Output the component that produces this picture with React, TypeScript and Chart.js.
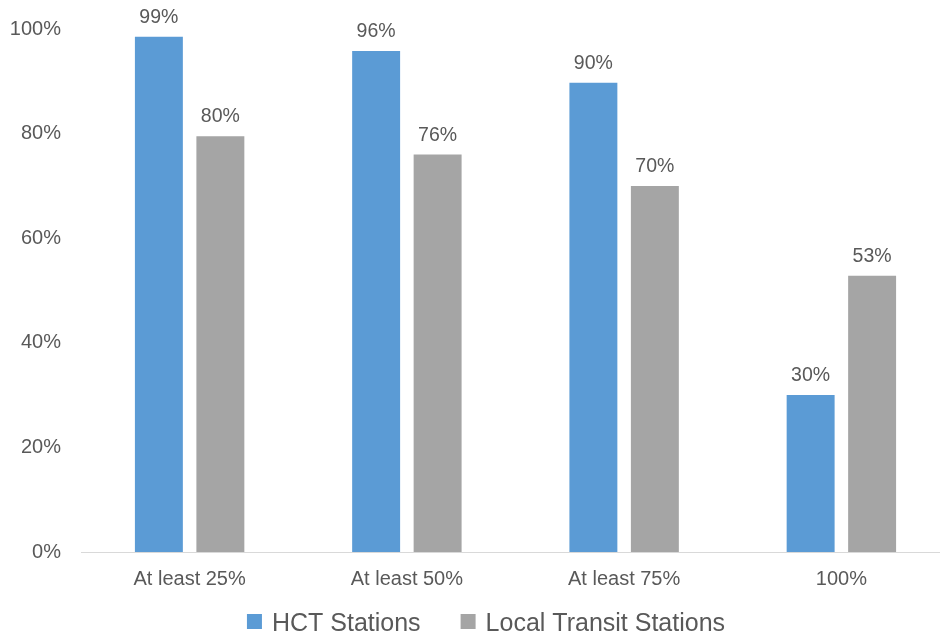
import React, { useEffect, useRef } from 'react';
import { Chart, registerables } from 'chart.js';

Chart.register(...registerables);

const categories = ['At least 25%', 'At least 50%', 'At least 75%', '100%'];
const seriesNames = ['HCT Stations', 'Local Transit Stations'];
const hctStations = [98.5, 95.8, 89.7, 30.0];
const localTransitStations = [79.5, 76.0, 70.0, 52.8];
const yTickMin = 0;
const yTickMax = 100;
const yTickStep = 20;

const BLUE = '#5B9BD5';
const GRAY = '#A5A5A5';
const TEXT = '#595959';
const AXIS = '#D9D9D9';
const FONT = '"Liberation Sans", Arial, Helvetica, sans-serif';

const dataLabelPlugin = {
  id: 'dataLabels',
  afterDatasetsDraw(chart: any) {
    const ctx = chart.ctx;
    ctx.save();
    ctx.font = `19.5px ${FONT}`;
    ctx.fillStyle = TEXT;
    ctx.textAlign = 'center';
    ctx.textBaseline = 'alphabetic';
    chart.data.datasets.forEach((ds: any, di: number) => {
      const meta = chart.getDatasetMeta(di);
      meta.data.forEach((bar: any, i: number) => {
        const v = ds.data[i];
        ctx.fillText(`${Math.round(v)}%`, bar.x, bar.y - 14);
      });
    });
    ctx.restore();
  },
};

const customLegendPlugin = {
  id: 'customLegend',
  afterDraw(chart: any) {
    const ctx = chart.ctx;
    ctx.save();
    ctx.font = `25px ${FONT}`;
    ctx.textBaseline = 'alphabetic';
    ctx.textAlign = 'left';
    const box = 15;
    const gap = 10;
    const spacing = 40;
    const items = chart.data.datasets.map((ds: any) => ({
      label: ds.label,
      color: ds.backgroundColor,
      w: ctx.measureText(ds.label).width,
    }));
    const total = items.reduce((s: number, it: any, i: number) => s + box + gap + it.w + (i > 0 ? spacing : 0), 0);
    const centerX = 486;
    const cy = 622;
    let x = centerX - total / 2;
    items.forEach((it: any, i: number) => {
      if (i > 0) x += spacing;
      ctx.fillStyle = it.color;
      ctx.fillRect(x, cy - 8, box, box);
      x += box + gap;
      ctx.fillStyle = TEXT;
      ctx.fillText(it.label, x, cy + 9);
      x += it.w;
    });
    ctx.restore();
  },
};

export default function App() {
  const canvasRef = useRef<HTMLCanvasElement | null>(null);

  useEffect(() => {
    document.body.style.margin = '0';
    document.body.style.overflow = 'hidden';
    const canvas = canvasRef.current;
    if (!canvas) return;
    const chart = new Chart(canvas, {
      type: 'bar',
      data: {
        labels: categories,
        datasets: [
          {
            label: seriesNames[0],
            data: hctStations,
            backgroundColor: BLUE,
            categoryPercentage: 0.566,
            barPercentage: 0.78,
          },
          {
            label: seriesNames[1],
            data: localTransitStations,
            backgroundColor: GRAY,
            categoryPercentage: 0.566,
            barPercentage: 0.78,
          },
        ],
      },
      options: {
        animation: false,
        responsive: false,
        maintainAspectRatio: false,
        layout: { padding: { top: 29, bottom: 32, left: 0, right: 0 } },
        plugins: {
          legend: { display: false },
          tooltip: { enabled: false },
        },
        scales: {
          x: {
            grid: { display: false, drawTicks: false },
            border: { display: true, color: AXIS, width: 1 },
            ticks: {
              color: TEXT,
              font: { family: FONT, size: 20 },
              padding: 15,
              maxRotation: 0,
            },
          },
          y: {
            min: yTickMin,
            max: yTickMax,
            grid: { display: false, drawTicks: false },
            border: { display: false },
            ticks: {
              stepSize: yTickStep,
              color: TEXT,
              font: { family: FONT, size: 20 },
              padding: 20,
              callback: (v: any) => `${v}%`,
            },
            afterFit: (scale: any) => {
              scale.width = 81;
              scale.paddingTop = 0;
              scale.paddingBottom = 0;
            },
          },
        },
      },
      plugins: [dataLabelPlugin, customLegendPlugin],
    });
    return () => chart.destroy();
  }, []);

  return (
    <div style={{ position: 'fixed', left: 0, top: 0, width: 940, height: 638, overflow: 'hidden', background: '#fff' }}>
      <canvas ref={canvasRef} width={950} height={638} style={{ width: 950, height: 638, display: 'block' }} />
    </div>
  );
}
